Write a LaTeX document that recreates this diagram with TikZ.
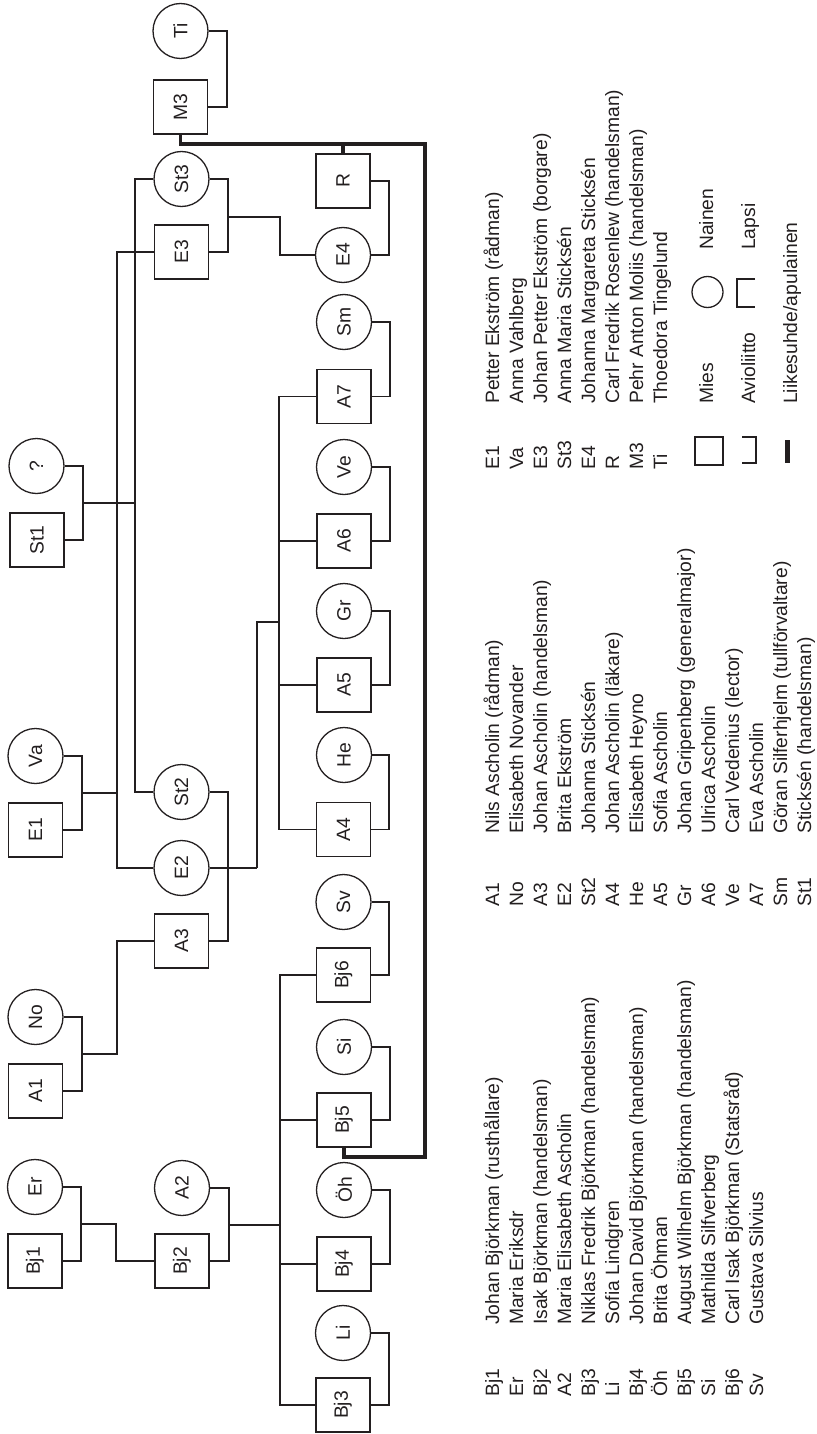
\documentclass[tikz,border=0pt]{standalone}
\usepackage{fontspec}
\setmainfont{Liberation Sans}
\usepackage{graphicx}
\definecolor{ink}{RGB}{35,31,32}
\newcommand\rlab[1]{\rotatebox{90}{#1}}
\begin{document}
\begin{tikzpicture}[x=1pt,y=-1pt,
  font=\fontsize{19.3}{23}\selectfont,
  every node/.style={text=ink},
  man/.style={draw=ink, rectangle, minimum width=54pt, minimum height=54pt, inner sep=0pt, line width=1.3pt},
  woman/.style={draw=ink, circle, minimum size=55pt, inner sep=0pt, line width=1.3pt},
  lnk/.style={draw=ink, line width=1.3pt},
  biz/.style={draw=ink, line width=3.6pt, line join=miter},
  lg/.style={rotate=90, anchor=base west, inner sep=0pt}]
\useasboundingbox (0,0) rectangle (816,1434);

% ---- persons ----
\node[man]   (Bj1) at (35,1261) {\rlab{Bj1}};
\node[woman] (Er)  at (35,1187) {\rlab{Er}};
\node[man]   (Bj2) at (182,1261) {\rlab{Bj2}};
\node[woman] (A2)  at (182,1188) {\rlab{A2}};
\node[man]   (Bj3) at (343,1405) {\rlab{Bj3}};
\node[woman] (Li)  at (343,1333) {\rlab{Li}};
\node[man]   (Bj4) at (344,1264) {\rlab{Bj4}};
\node[woman] (Oh)  at (344,1190) {\rlab{Öh}};
\node[man]   (Bj5) at (344,1120) {\rlab{Bj5}};
\node[woman] (Si)  at (344,1047) {\rlab{Si}};
\node[man]   (Bj6) at (343.5,975) {\rlab{Bj6}};
\node[woman] (Sv)  at (343.5,902) {\rlab{Sv}};

\node[man]   (A1)  at (35.5,1091) {\rlab{A1}};
\node[woman] (No)  at (35.5,1017) {\rlab{No}};
\node[man]   (A3)  at (181.5,941) {\rlab{A3}};
\node[woman] (E2)  at (181.5,868) {\rlab{E2}};
\node[woman] (St2) at (181.5,792) {\rlab{St2}};
\node[man]   (E1)  at (35.5,830) {\rlab{E1}};
\node[woman] (Va)  at (35.5,756) {\rlab{Va}};
\node[man]   (St1) at (37,540) {\rlab{St1}};
\node[woman] (Q)   at (36.5,466) {\rlab{?}};

\node[man]   (A4)  at (343.5,829.5) {\rlab{A4}};
\node[woman] (He)  at (344,755) {\rlab{He}};
\node[man]   (A5)  at (344,685) {\rlab{A5}};
\node[woman] (Gr)  at (344,611) {\rlab{Gr}};
\node[man]   (A6)  at (344,541) {\rlab{A6}};
\node[woman] (Ve)  at (344,467) {\rlab{Ve}};
\node[man]   (A7)  at (344,396.5) {\rlab{A7}};
\node[woman] (Sm)  at (344,322) {\rlab{Sm}};

\node[man]   (E3)  at (181.5,252) {\rlab{E3}};
\node[woman] (St3) at (181.5,179) {\rlab{St3}};
\node[woman] (E4)  at (343,255) {\rlab{E4}};
\node[man]   (R)   at (343,181) {\rlab{R}};
\node[man]   (M3)  at (180.5,107) {\rlab{M3}};
\node[woman] (Ti)  at (180.5,31) {\rlab{Ti}};

% ---- junction coordinates ----
\coordinate (jBj1) at (81,1224);
\coordinate (jBj2) at (229,1225);
\coordinate (jA1)  at (82,1054);
\coordinate (jA3)  at (257,868);
\coordinate (jE1)  at (82,793);
\coordinate (jSt1) at (83,503);
\coordinate (jE3)  at (228,217);
\coordinate (kBj)  at (280,1225);
\coordinate (kA)   at (279,622);
\coordinate (kE)   at (117,793);
\coordinate (kSt)  at (135,503);
\coordinate (tTop) at (425,144);
\coordinate (tBot) at (425,1157);

% ---- marriages ----
\draw[lnk] (Bj1.east) -| (81,1187) -- (Er.east);
\draw[lnk] (Bj2.east) -| (229,1188) -- (A2.east);
\draw[lnk] (Bj3.east) -| (389,1333) -- (Li.east);
\draw[lnk] (Bj4.east) -| (390,1190) -- (Oh.east);
\draw[lnk] (Bj5.east) -| (390,1047) -- (Si.east);
\draw[lnk] (Bj6.east) -| (389,902) -- (Sv.east);
\draw[lnk] (A1.east) -| (82,1017) -- (No.east);
\draw[lnk] (A3.east) -| (228,792) -- (St2.east);
\draw[lnk] (E2.east) -- (jA3);
\draw[lnk] (E1.east) -| (82,756) -- (Va.east);
\draw[lnk] (St1.east) -| (83,466) -- (Q.east);
\draw[lnk] (A4.east) -| (389,755) -- (He.east);
\draw[lnk] (A5.east) -| (390,611) -- (Gr.east);
\draw[lnk] (A6.east) -| (390,467) -- (Ve.east);
\draw[lnk] (A7.east) -| (390,322) -- (Sm.east);
\draw[lnk] (E3.east) -| (228,179) -- (St3.east);
\draw[lnk] (R.east) -| (389,255) -- (E4.east);
\draw[lnk] (M3.east) -| (227,31) -- (Ti.east);

% ---- children ----
\draw[lnk] (jBj1) -| (116,1261) -- (Bj2.west);
\draw[lnk] (jBj2) -- (kBj);
\draw[lnk] (Bj6.west) -| (280,1405) -- (Bj3.west);
\draw[lnk] (280,1120) -- (Bj5.west);
\draw[lnk] (280,1264) -- (Bj4.west);
\draw[lnk] (jA1) -| (117,941) -- (A3.west);
\draw[lnk] (jA3) |- (kA);
\draw[lnk] (A7.west) -| (279,829.5) -- (A4.west);
\draw[lnk] (279,685) -- (A5.west);
\draw[lnk] (279,541) -- (A6.west);
\draw[lnk] (jE1) -- (kE);
\draw[lnk] (E3.west) -| (117,868) -- (E2.west);
\draw[lnk] (jSt1) -- (kSt);
\draw[lnk] (St3.west) -| (135,792) -- (St2.west);
\draw[lnk] (jE3) -| (280,255) -- (E4.west);

% ---- business relation ----
\draw[biz] (M3.south) |- (tTop) -- (tBot) -| (Bj5.south);
\draw[biz] (R.north) -- (343,144);

% ---- legend: column 1 ----
\foreach \a/\n [count=\i from 0] in {Bj1/{Johan Björkman (rusthållare)}, Er/{Maria Eriksdr}, Bj2/{Isak Björkman (handelsman)}, A2/{Maria Elisabeth Ascholin}, Bj3/{Niklas Fredrik Björkman (handelsman)}, Li/{Sofia Lindgren}, Bj4/{Johan David Björkman (handelsman)}, Öh/{Brita Öhman}, Bj5/{August Wilhelm Björkman (handelsman)}, Si/{Mathilda Silfverberg}, Bj6/{Carl Isak Björkman (Statsråd)}, Sv/{Gustava Silvius}}{
  \node[lg] (la\i) at ({499+24*\i},1397) {\a};
  \node[lg] (ln\i) at ({499+24*\i},1325) {\n};
}
% ---- legend: column 2 ----
\foreach \a/\n [count=\i from 0] in {A1/{Nils Ascholin (rådman)}, No/{Elisabeth Novander}, A3/{Johan Ascholin (handelsman)}, E2/{Brita Ekström}, St2/{Johanna Sticksén}, A4/{Johan Ascholin (läkare)}, He/{Elisabeth Heyno}, A5/{Sofia Ascholin}, Gr/{Johan Gripenberg (generalmajor)}, A6/{Ulrica Ascholin}, Ve/{Carl Vedenius (lector)}, A7/{Eva Ascholin}, Sm/{Göran Silferhjelm (tullförvaltare)}, St1/{Sticksén (handelsman)}}{
  \node[lg] (ma\i) at ({499+24*\i},907) {\a};
  \node[lg] (mn\i) at ({499+24*\i},834) {\n};
}
% ---- legend: column 3 ----
\foreach \a/\n [count=\i from 0] in {E1/{Petter Ekström (rådman)}, Va/{Anna Vahlberg}, E3/{Johan Petter Ekström (borgare)}, St3/{Anna Maria Sticksén}, E4/{Johanna Margareta Sticksén}, R/{Carl Fredrik Rosenlew (handelsman)}, M3/{Pehr Anton Moliis (handelsman)}, Ti/{Thoedora Tingelund}}{
  \node[lg] (ra\i) at ({499+24*\i},470) {\a};
  \node[lg] (rn\i) at ({499+24*\i},404) {\n};
}

% ---- legend: symbols ----
\node[draw=ink, line width=1.3pt, minimum size=28pt, inner sep=0pt] (symM) at (709,451) {};
\node[lg] (tM) at (713,404) {Mies};
\node[draw=ink, line width=1.3pt, circle, minimum size=31pt, inner sep=0pt] (symW) at (707.5,292) {};
\node[lg] (tW) at (713,250) {Nainen};
\draw[lnk] (742,437) -- (756,437) -- (756,463) -- (742,463);
\node[lg] (tA) at (755,404) {Avioliitto};
\draw[lnk] (755,279) -- (737,279) -- (737,307) -- (755,307);
\node[lg] (tL) at (755,250) {Lapsi};
\fill[ink] (785,440) rectangle (790,463);
\node[lg] (tB) at (797,404) {Liikesuhde/apulainen};
\end{tikzpicture}
\end{document}
